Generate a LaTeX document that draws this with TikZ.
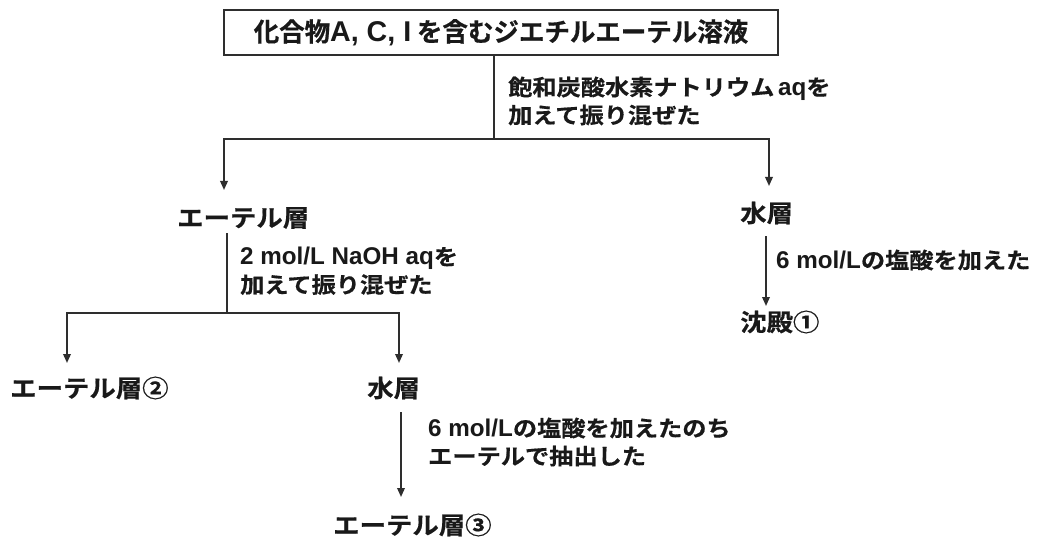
\documentclass[tikz,border=0pt]{standalone}
\usepackage{fontspec}
\usetikzlibrary{arrows.meta}
\newfontfamily\jpMain{Noto Sans CJK JP Bold}[FakeStretch=0.98,FakeBold=0.5]
\newfontfamily\jpNode{Noto Sans CJK JP Bold}[FakeStretch=1.1,FakeBold=0.5]
\newfontfamily\jpLab{Noto Sans CJK JP Bold}[FakeStretch=1.1,FakeBold=0.5]
\newfontfamily\latB{Liberation Sans Bold}[Scale=1.1]
\newcommand{\lt}[1]{{\latB #1}}
\begin{document}
\begin{tikzpicture}[x=1pt,y=-1pt,
  ln/.style={line width=1.8pt,draw=black!82},
  arr/.style={ln,-{Triangle[length=9pt,width=7.5pt]}},
  mainbox/.style={draw=black!82,line width=1.8pt,minimum width=554pt,minimum height=45pt,inner sep=0pt,font=\jpMain\fontsize{26}{28}\selectfont,text=black!90},
  lay/.style={anchor=west,inner sep=0pt,font=\jpNode\fontsize{24}{26}\selectfont,text=black!90},
  lab/.style={anchor=west,inner sep=0pt,align=left,font=\jpLab\fontsize{22}{#1}\selectfont,text=black!90},
  lab/.default=28]
\useasboundingbox (0,0) rectangle (1038,540);
\fill[white] (0,0) rectangle (1038,540);
% nodes
\node[mainbox] (box) at (501,32.5) {化合物\lt{A, C, I} を含むジエチルエーテル溶液};
\node[lab] (l1) at (508,101) {飽和炭酸水素ナトリウム\,\lt{aq}を\\加えて振り混ぜた};
\node[lay] (e1) at (177,218) {エーテル層};
\node[lay] (w1) at (740,213) {水層};
\node[lab] (l2) at (240,271) {\lt{2 mol/L NaOH aq}を\\加えて振り混ぜた};
\node[lab] (l3) at (776,260) {\lt{6 mol/L}の塩酸を加えた};
\node[lay] (p1) at (740,322) {沈殿①};
\node[lay] (e2) at (10,388) {エーテル層②};
\node[lay] (w2) at (367,388) {水層};
\node[lab] (l4) at (428,442) {\lt{6 mol/L}の塩酸を加えたのち\\エーテルで抽出した};
\node[lay] (e3) at (333,525) {エーテル層③};
% junctions and arrow ends
\coordinate (j1) at (494,139);
\coordinate (jl) at (224,139);
\coordinate (jr) at (769,139);
\coordinate (tl) at (224,190);
\coordinate (tr) at (769,186);
\coordinate (s2) at (227,233);
\coordinate (j2) at (227,313);
\coordinate (jl2) at (67,313);
\coordinate (jr2) at (399,313);
\coordinate (tl2) at (67,363);
\coordinate (tr2) at (399,363);
\coordinate (s3) at (766,236);
\coordinate (t3) at (766,306);
\coordinate (s4) at (401,412);
\coordinate (t4) at (401,497);
% connectors
\draw[ln] (box.south -| j1) -- (j1);
\draw[arr] (j1) -- (jl) -- (tl);
\draw[arr] (j1) -- (jr) -- (tr);
\draw[ln] (s2) -- (j2);
\draw[arr] (j2) -- (jl2) -- (tl2);
\draw[arr] (j2) -- (jr2) -- (tr2);
\draw[arr] (s3) -- (t3);
\draw[arr] (s4) -- (t4);
\end{tikzpicture}
\end{document}
